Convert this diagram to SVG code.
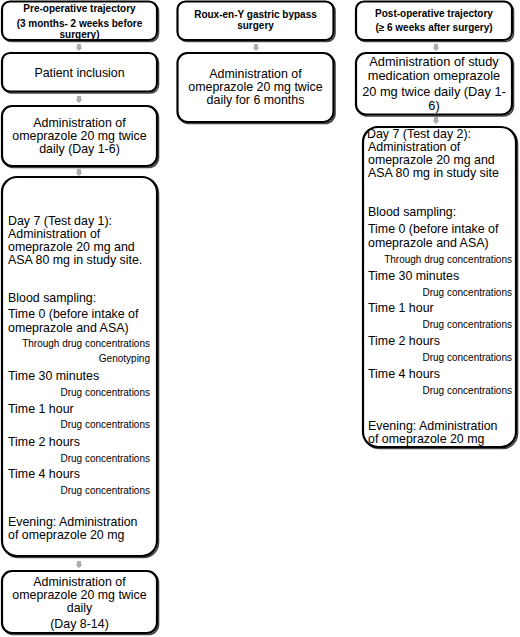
<svg xmlns="http://www.w3.org/2000/svg" width="520" height="637" viewBox="0 0 520 637">
<style>
.box{fill:#fff;stroke:#000;stroke-width:2.2}
.sh{fill:none;stroke:#444;stroke-width:1.6}
text{font-family:"Liberation Sans",Arial,sans-serif;fill:#000}
.h{font-size:10px;font-weight:bold;text-anchor:middle}
.m{font-size:12.4px;text-anchor:middle}
.ml{font-size:12.8px;text-anchor:middle}
.l{font-size:12.4px}
.s{font-size:10px;text-anchor:end}
.arr{fill:#acacac}
</style>
<defs>
<path id="a" d="M-2,0 H2 V3.5 H3.5 L0,7 L-3.5,3.5 H-2 Z"/>
</defs>
<rect width="520" height="637" fill="#fff"/>
<g id="connectors">
<use href="#a" class="arr" x="79" y="44"/>
<use href="#a" class="arr" x="79" y="96"/>
<use href="#a" class="arr" x="79" y="169"/>
<use href="#a" class="arr" x="79" y="561"/>
<use href="#a" class="arr" x="256" y="44"/>
<use href="#a" class="arr" x="436" y="44"/>
<use href="#a" class="arr" x="436" y="117"/>
</g>
<g id="pre-header">
<rect class="sh" x="3.5" y="3" width="155" height="38.5" rx="8"/>
<rect class="box" x="2" y="1.5" width="155" height="38.5" rx="8"/>
<text class="h" x="79.5" y="12">Pre-operative trajectory</text>
<text class="h" x="79.5" y="27">(3 months- 2 weeks before</text>
<text class="h" x="79.5" y="37.5">surgery)</text>
</g>
<g id="patient-inclusion">
<rect class="sh" x="3.5" y="54.5" width="155" height="38.5" rx="8"/>
<rect class="box" x="2" y="53" width="155" height="38.5" rx="8"/>
<text class="m" x="79.5" y="77">Patient inclusion</text>
</g>
<g id="pre-day1-6">
<rect class="sh" x="3.5" y="107.5" width="155" height="60" rx="10"/>
<rect class="box" x="2" y="106" width="155" height="60" rx="10"/>
<text class="m" x="79.5" y="127">Administration of</text>
<text class="m" x="79.5" y="140">omeprazole 20 mg twice</text>
<text class="m" x="79.5" y="153">daily (Day 1-6)</text>
</g>
<g id="test-day-1">
<rect class="sh" x="3.5" y="178.5" width="155" height="379" rx="15"/>
<rect class="box" x="2" y="177" width="155" height="379" rx="15"/>
<text class="l" x="8" y="225">Day 7 (Test day 1):</text>
<text class="l" x="8" y="238">Administration of</text>
<text class="l" x="8" y="251">omeprazole 20 mg and</text>
<text class="l" x="8" y="264">ASA 80 mg in study site.</text>
<text class="l" x="8" y="302">Blood sampling:</text>
<text class="l" x="8" y="318">Time 0 (before intake of</text>
<text class="l" x="8" y="332">omeprazole and ASA)</text>
<text class="s" x="150" y="347">Through drug concentrations</text>
<text class="s" x="150" y="362">Genotyping</text>
<text class="l" x="8" y="380">Time 30 minutes</text>
<text class="s" x="150" y="396">Drug concentrations</text>
<text class="l" x="8" y="413">Time 1 hour</text>
<text class="s" x="150" y="428">Drug concentrations</text>
<text class="l" x="8" y="446">Time 2 hours</text>
<text class="s" x="150" y="462">Drug concentrations</text>
<text class="l" x="8" y="478">Time 4 hours</text>
<text class="s" x="150" y="494">Drug concentrations</text>
<text class="l" x="8" y="526">Evening: Administration</text>
<text class="l" x="8" y="539">of omeprazole 20 mg</text>
</g>
<g id="pre-day8-14">
<rect class="sh" x="3.5" y="572.5" width="155" height="62" rx="10"/>
<rect class="box" x="2" y="571" width="155" height="62" rx="10"/>
<text class="m" x="79.5" y="586">Administration of</text>
<text class="m" x="79.5" y="599">omeprazole 20 mg twice</text>
<text class="m" x="79.5" y="612">daily</text>
<text class="m" x="79.5" y="628">(Day 8-14)</text>
</g>
<g id="surgery-header">
<rect class="sh" x="179" y="3" width="156" height="38.5" rx="8"/>
<rect class="box" x="177.5" y="1.5" width="156" height="38.5" rx="8"/>
<text class="h" x="255.5" y="18">Roux-en-Y gastric bypass</text>
<text class="h" x="255.5" y="29">surgery</text>
</g>
<g id="surgery-omeprazole">
<rect class="sh" x="179" y="54.5" width="156" height="69" rx="10"/>
<rect class="box" x="177.5" y="53" width="156" height="69" rx="10"/>
<text class="m" x="255.5" y="78">Administration of</text>
<text class="m" x="255.5" y="91">omeprazole 20 mg twice</text>
<text class="m" x="255.5" y="104">daily for 6 months</text>
</g>
<g id="post-header">
<rect class="sh" x="357.5" y="3" width="156" height="38.5" rx="8"/>
<rect class="box" x="356" y="1.5" width="156" height="38.5" rx="8"/>
<text class="h" x="434" y="17">Post-operative trajectory</text>
<text class="h" x="434" y="31">(≥ 6 weeks after surgery)</text>
</g>
<g id="post-day1-6">
<rect class="sh" x="357.5" y="54.5" width="156" height="61.5" rx="10"/>
<rect class="box" x="356" y="53" width="156" height="61.5" rx="10"/>
<text class="ml" x="434" y="65.5">Administration of study</text>
<text class="ml" x="434" y="79.5">medication omeprazole</text>
<text class="ml" x="434" y="96">20 mg twice daily (Day 1-</text>
<text class="ml" x="434" y="109.5">6)</text>
</g>
<g id="test-day-2">
<rect class="sh" x="364.5" y="128.5" width="153" height="320" rx="15"/>
<rect class="box" x="363" y="127" width="153" height="320" rx="15"/>
<text class="l" x="367" y="138">Day 7 (Test day 2):</text>
<text class="l" x="368" y="151">Administration of</text>
<text class="l" x="368" y="164">omeprazole 20 mg and</text>
<text class="l" x="368" y="177">ASA 80 mg in study site</text>
<text class="l" x="368" y="216">Blood sampling:</text>
<text class="l" x="368" y="233">Time 0 (before intake of</text>
<text class="l" x="368" y="247">omeprazole and ASA)</text>
<text class="s" x="512" y="263">Through drug concentrations</text>
<text class="l" x="368" y="280">Time 30 minutes</text>
<text class="s" x="512" y="296">Drug concentrations</text>
<text class="l" x="368" y="312">Time 1 hour</text>
<text class="s" x="512" y="328">Drug concentrations</text>
<text class="l" x="368" y="345">Time 2 hours</text>
<text class="s" x="512" y="361">Drug concentrations</text>
<text class="l" x="368" y="378">Time 4 hours</text>
<text class="s" x="512" y="394">Drug concentrations</text>
<text class="l" x="368" y="430">Evening: Administration</text>
<text class="l" x="368" y="443">of omeprazole 20 mg</text>
</g>
</svg>
